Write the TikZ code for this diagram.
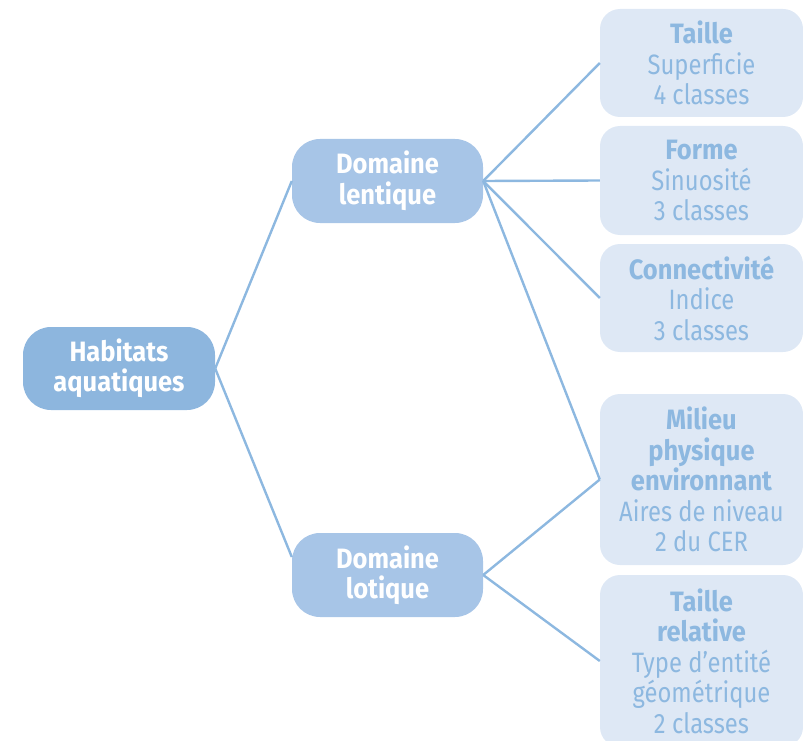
\documentclass[tikz,border=0pt]{standalone}
\usepackage{fontspec}
\setmainfont[FakeStretch=0.85, BoldFeatures={FakeStretch=0.91}]{Fira Sans}
\usetikzlibrary{calc}
\definecolor{rootfill}{HTML}{8DB6DE}
\definecolor{midfill}{HTML}{A7C5E7}
\definecolor{leaffill}{HTML}{DEE8F5}
\definecolor{leaftext}{HTML}{8DB8E0}
\definecolor{linkcol}{HTML}{8DB8E0}
\begin{document}
\begin{tikzpicture}[x=1pt,y=-1pt,
  txt/.style={font=\fontsize{28}{30.5}\selectfont, align=center, inner sep=0pt},
  rootbox/.style={txt, fill=rootfill, text=white, rounded corners=28pt,
    minimum width=192pt, minimum height=83pt},
  midbox/.style={txt, fill=midfill, text=white, rounded corners=28pt,
    minimum width=191pt, minimum height=84pt},
  leafbox/.style={txt, fill=leaffill, text=leaftext, rounded corners=20pt,
    minimum width=203pt},
  link/.style={draw=linkcol, line width=2.4pt}]
\useasboundingbox (0,0) rectangle (803,741);
\clip (0,0) rectangle (803,741);

% tree nodes
\node[rootbox] (hab) at (119,368.5) {\bfseries Habitats\\\bfseries aquatiques};
\node[midbox] (len) at (387.5,181) {\bfseries Domaine\\\bfseries lentique};
\node[midbox] (lot) at (387.5,575) {\bfseries Domaine\\\bfseries lotique};

% descriptor boxes
\node[leafbox, minimum height=108pt] (tai) at (701.5,63)
  {\bfseries Taille\\Superficie\\4 classes};
\node[leafbox, minimum height=109pt] (for) at (701.5,180.5)
  {\bfseries Forme\\Sinuosité\\3 classes};
\node[leafbox, minimum height=108pt] (con) at (701.5,298)
  {\bfseries Connectivité\\Indice\\3 classes};
\node[leafbox, minimum height=171pt] (mil) at (701.5,479.5)
  {\bfseries Milieu\\\bfseries physique\\\bfseries environnant\\Aires de niveau\\2 du CER};
\node[leafbox, minimum height=172pt] (rel) at (701.5,661)
  {\bfseries Taille\\\bfseries relative\\Type d’entité\\géométrique\\2 classes};

% connectors
\draw[link] (hab.east) -- (len.west);
\draw[link] (hab.east) -- ($(lot.west)+(0,-18)$);
\draw[link] (len.east) -- (tai.west);
\draw[link] (len.east) -- (for.west);
\draw[link] (len.east) -- (con.west);
\draw[link] (len.east) -- (mil.west);
\draw[link] (lot.east) -- (mil.west);
\draw[link] (lot.east) -- (rel.west);
\end{tikzpicture}
\end{document}
